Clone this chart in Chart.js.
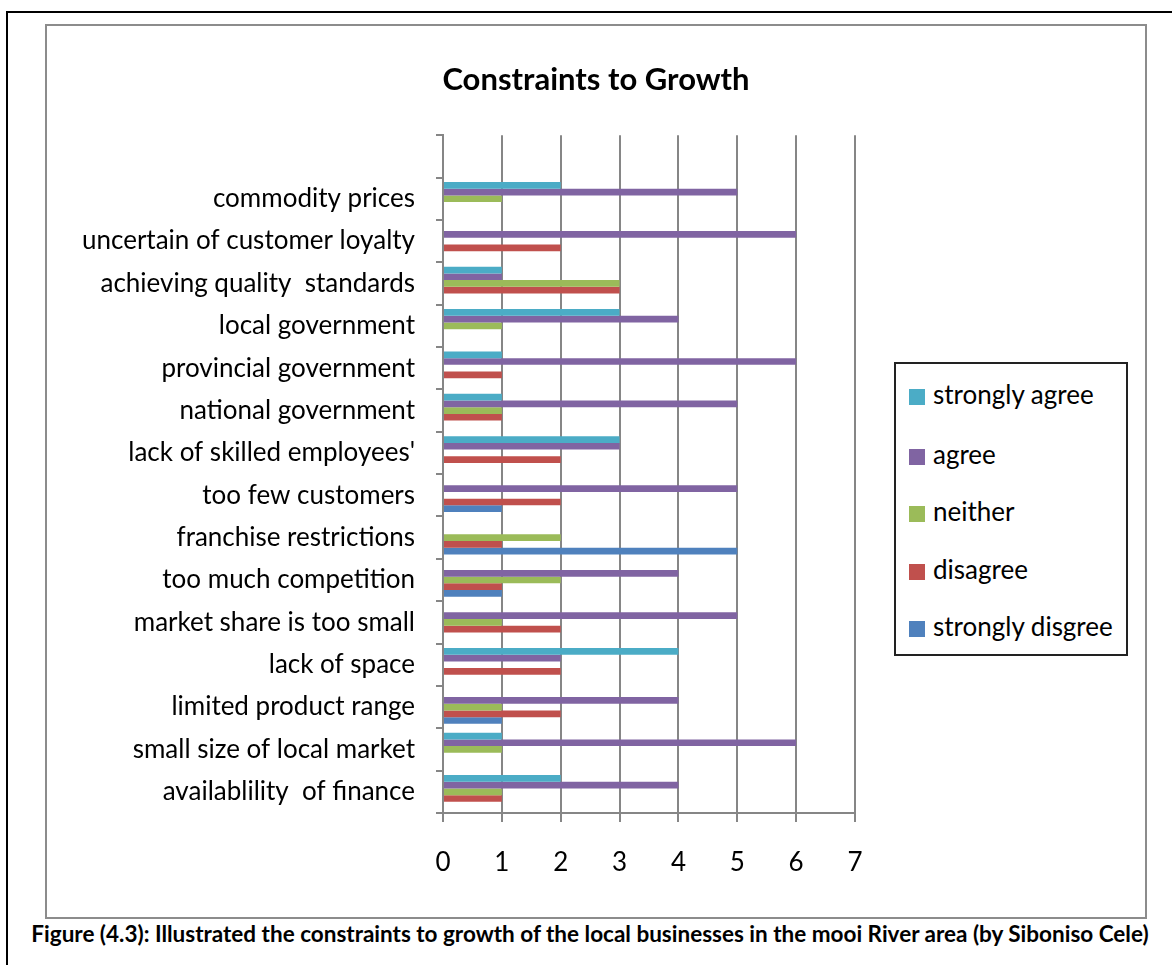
<!DOCTYPE html>
<html>
<head>
<meta charset="utf-8">
<script src="https://cdn.jsdelivr.net/npm/chart.js@4.4.1/dist/chart.umd.min.js"></script>
<style>
    body { margin: 0; background: #fff; font-family: Lato, sans-serif; }
    .frame { position: absolute; left: 6px; top: 11px; width: 1200px; height: 1000px; border: 2px solid #000; }
    .box { position: absolute; left: 45px; top: 24px; width: 1098px; height: 891px; border: 2px solid #8c8c8c; background: #fff; }
    .box canvas { display: block; }
    .legend { position: absolute; left: 894px; top: 362px; width: 230px; height: 290px; border: 2px solid #222; background: #fff; }
    .legend .item { position: absolute; left: 13px; font-size: 26px; color: #000; line-height: 30px; white-space: nowrap; }
    .legend .swatch { display: inline-block; width: 16px; height: 16px; margin-right: 8px; vertical-align: -1px; }
    .caption { position: absolute; left: 0; width: 1180px; top: 920px; text-align: center; font-weight: bold; font-size: 22.5px; color: #000; }
</style>
</head>
<body>
<div class="frame"></div>
<div class="box"><canvas id="myChart" width="1098" height="891"></canvas></div>
<div class="legend" id="legend"></div>
<div class="caption">Figure (4.3): Illustrated the constraints to growth of the local businesses in the mooi River area (by Siboniso Cele)</div>
<script>
// categories, top to bottom (first slot is an empty row in the original)
const categories = [
    '',
    'commodity prices',
    'uncertain of customer loyalty',
    'achieving quality  standards',
    'local government',
    'provincial government',
    'national government',
    "lack of skilled employees'",
    'too few customers',
    'franchise restrictions',
    'too much competition',
    'market share is too small',
    'lack of space',
    'limited product range',
    'small size of local market',
    'availablility  of finance'
];

const stronglyAgree    = [null, 2, null, 1, 3, 1, 1, 3, null, null, null, null, 4, null, 1, 2];
const agree            = [null, 5, 6, 1, 4, 6, 5, 3, 5, null, 4, 5, 2, 4, 6, 4];
const neither          = [null, 1, null, 3, 1, null, 1, null, null, 2, 2, 1, null, 1, 1, 1];
const disagree         = [null, null, 2, 3, null, 1, 1, 2, 2, 1, 1, 2, 2, 2, null, 1];
const stronglyDisagree = [null, null, null, null, null, null, null, null, 1, 5, 1, null, null, 1, null, null];

const xTicks = [0, 1, 2, 3, 4, 5, 6, 7];

const seriesNames = ['strongly agree', 'agree', 'neither', 'disagree', 'strongly disgree'];
const seriesColors = ['#4BACC6', '#8064A2', '#9BBB59', '#C0504D', '#4F81BD'];
const seriesData = [stronglyAgree, agree, neither, disagree, stronglyDisagree];

document.addEventListener('DOMContentLoaded', () => {
    const ctx = document.getElementById('myChart').getContext('2d');
    const gridGrey = '#868686';

    new Chart(ctx, {
        type: 'bar',
        data: {
            labels: categories,
            datasets: seriesNames.map((name, i) => ({
                label: name,
                data: seriesData[i],
                backgroundColor: seriesColors[i],
                borderWidth: 0,
                barPercentage: 1,
                categoryPercentage: 0.79
            }))
        },
        options: {
            indexAxis: 'y',
            responsive: false,
            animation: false,
            layout: { padding: 0 },
            plugins: {
                legend: { display: false },
                tooltip: { enabled: false },
                title: {
                    display: true,
                    text: 'Constraints to Growth',
                    color: '#000',
                    font: { family: 'Lato', size: 31, weight: 'bold' },
                    padding: { top: 35, bottom: 37 }
                }
            },
            scales: {
                x: {
                    min: 0,
                    max: 7,
                    afterBuildTicks: (s) => { s.ticks = xTicks.map(v => ({ value: v })); },
                    afterFit: (s) => { s.height = 104; },
                    grid: { color: gridGrey, lineWidth: 2, tickLength: 9 },
                    border: { color: gridGrey, width: 2 },
                    ticks: { color: '#000', padding: 25, font: { family: 'Lato', size: 26 } }
                },
                y: {
                    afterFit: (s) => { s.width = 396; },
                    grid: { drawOnChartArea: false, color: gridGrey, lineWidth: 2, tickLength: 7, offset: true },
                    border: { color: gridGrey, width: 2 },
                    ticks: { color: '#000', padding: 21, autoSkip: false, font: { family: 'Lato', size: 26 } }
                },
                // empty space on the right where the legend sits
                spacer: {
                    type: 'linear',
                    position: 'right',
                    afterFit: (s) => { s.width = 290; },
                    grid: { display: false },
                    border: { display: false },
                    ticks: { display: false }
                }
            }
        }
    });

    // legend box on the right
    const legend = document.getElementById('legend');
    const itemTops = [15, 75, 132, 190, 247];
    seriesNames.forEach((name, i) => {
        const item = document.createElement('div');
        item.className = 'item';
        item.style.top = itemTops[i] + 'px';
        item.innerHTML = `<span class="swatch" style="background:${seriesColors[i]}"></span>${name}`;
        legend.appendChild(item);
    });
});
</script>
</body>
</html>
